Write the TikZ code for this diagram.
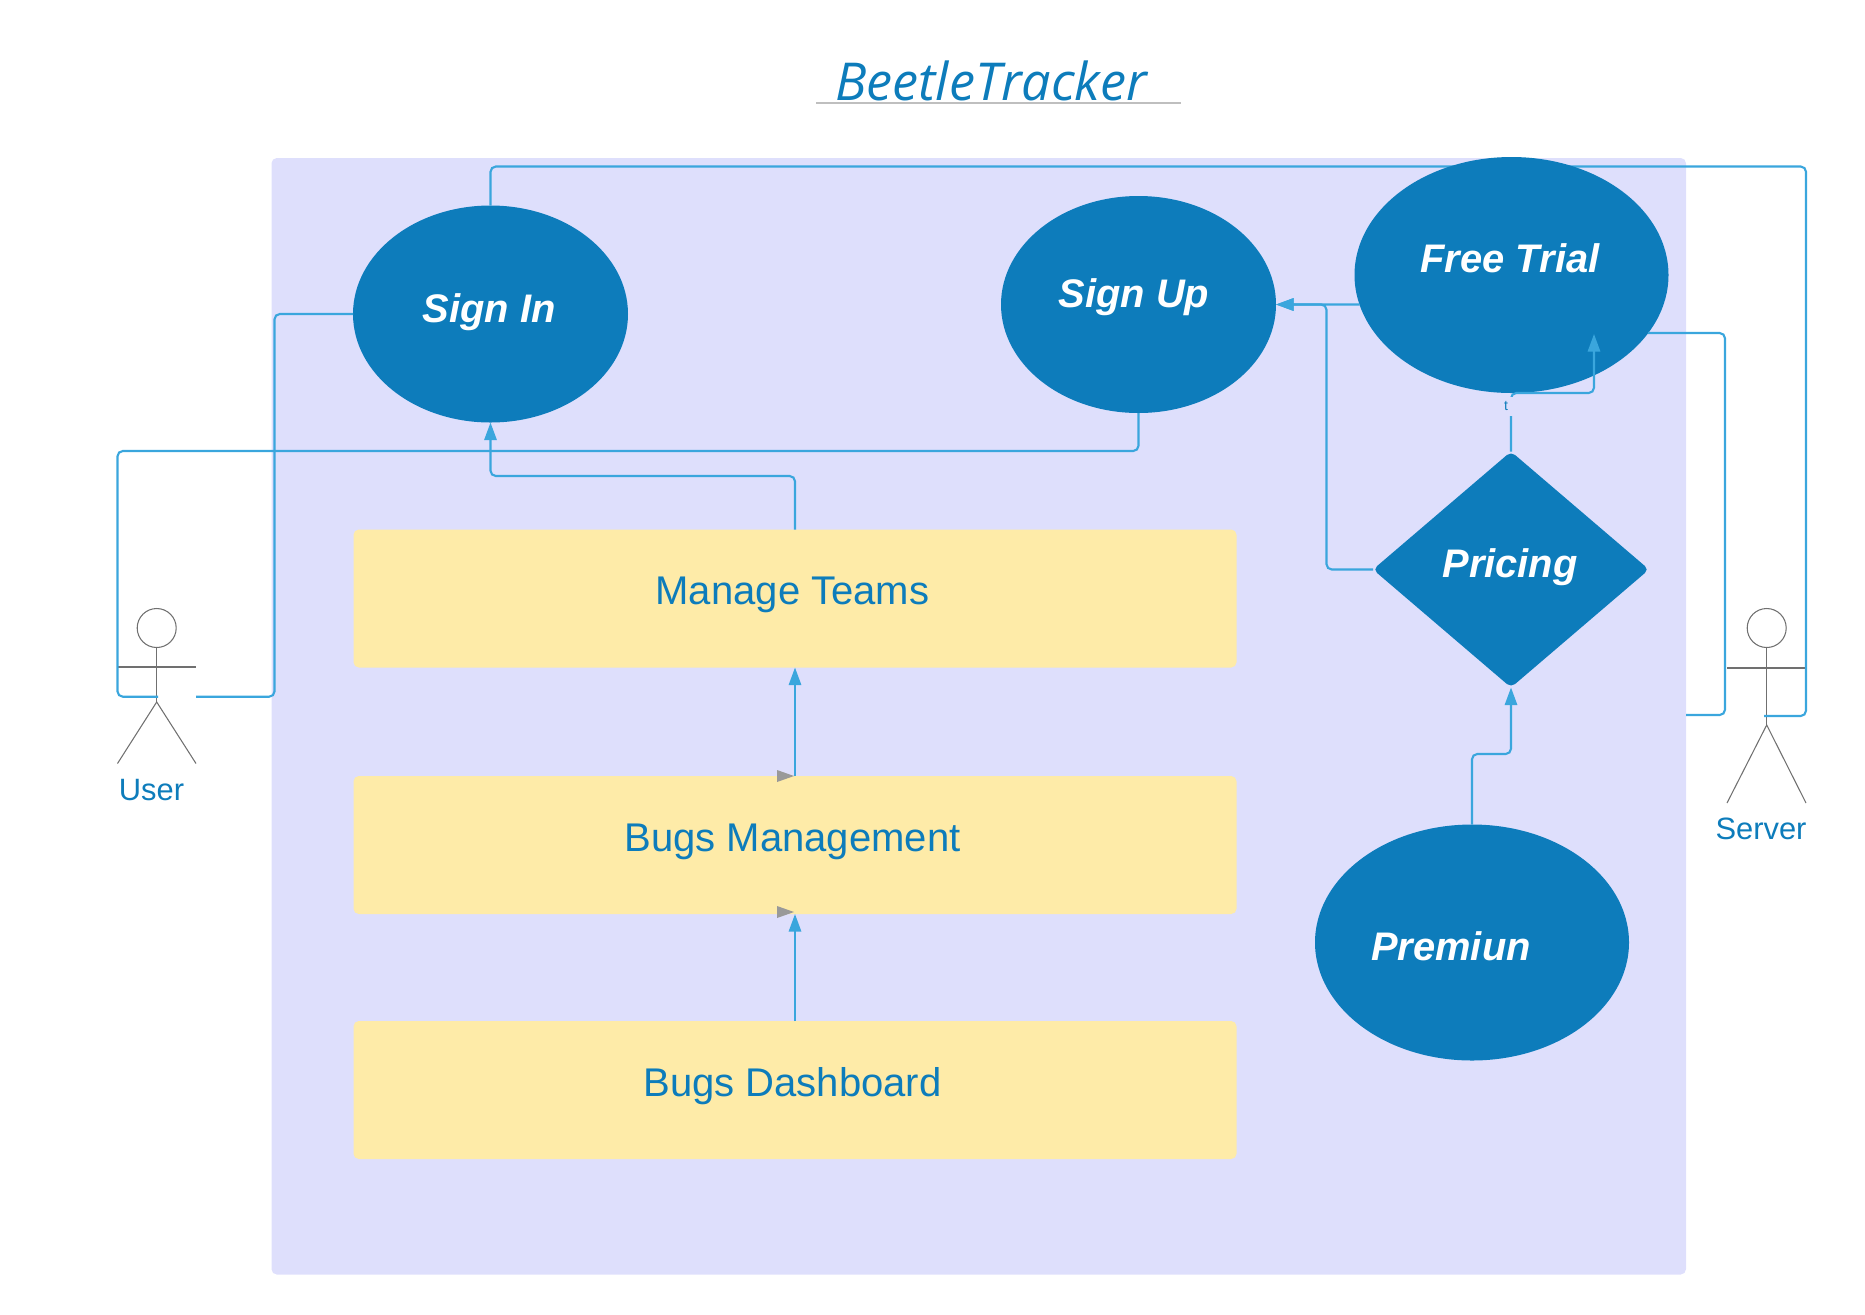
\documentclass[tikz,border=0pt]{standalone}
\usepackage{fontspec}
\setmainfont{Liberation Sans}
\newfontfamily\titlefont{Open Sans}
\usetikzlibrary{arrows.meta,shapes.geometric}
\newlength{\px}
\setlength{\px}{0.5669pt}
\newcommand{\nudge}[3]{\raisebox{#2\px}[0pt][0pt]{\makebox[0pt][c]{\hspace*{#1\px}\hspace*{#1\px}#3}}}
\definecolor{panelblue}{HTML}{DEDFFC}
\definecolor{boxyellow}{HTML}{FEEBA8}
\definecolor{deepblue}{HTML}{0D7CBB}
\definecolor{linkblue}{HTML}{3AA6DD}
\definecolor{actorgray}{HTML}{707070}
\begin{document}
\begin{tikzpicture}[x=1\px,y=-1\px,inner sep=0pt,outer sep=0pt,
>={Triangle[length=10pt,width=7pt]},
link/.style={draw=linkblue,line width=1.2pt,rounded corners=3pt},
panel/.style={fill=panelblue,rectangle,rounded corners=3pt,minimum width=1414.5\px,minimum height=1116.5\px},
bubble/.style={fill=deepblue,ellipse,text=white,font=\bfseries\itshape\fontsize{22.6}{26}\selectfont},
smallbubble/.style={bubble,minimum width=275\px,minimum height=217\px},
bigbubble/.style={bubble,minimum width=314\px,minimum height=236\px},
choice/.style={bubble,diamond,rounded corners=3pt,minimum width=276\px,minimum height=236\px},
featbox/.style={fill=boxyellow,rectangle,rounded corners=3pt,minimum width=883\px,minimum height=138\px,text=deepblue,font=\fontsize{22.7}{26}\selectfont},
head/.style={draw=actorgray,circle,line width=0.6pt,minimum size=39\px},
limb/.style={draw=actorgray,line width=0.6pt},
actorname/.style={text=deepblue,font=\fontsize{17.5}{20}\selectfont},
stray/.style={fill=black!40}]

\useasboundingbox (0,0) rectangle (1865,1314);

% title
\node[text=deepblue,font=\titlefont\itshape\fontsize{29.6}{34}\selectfont,anchor=base] (title) at (991.3,100) {BeetleTracker};
\draw[draw=black!25,line width=0.6pt] (816,103) coordinate (ruleleft) -- (1181,103) coordinate (ruleright);

\node[panel] (system) at (978.75,716.25) {};

% user
\node[head] (userhead) at (156.7,628) {};
\coordinate (userhip) at (156.7,702);
\coordinate (userhand) at (196,696.7);
\coordinate (userbody) at (158,696.7);
\draw[limb] (userhead.south) -- (userhip);
\draw[limb] (117.5,667) coordinate (userarml) -- (196,667) coordinate (userarmr);
\draw[limb] (117.5,763.5) coordinate (userfootl) -- (userhip) -- (196,763.5) coordinate (userfootr);
\node[actorname,anchor=base] (username) at (151.5,800) {User};

% server
\node[head] (serverhead) at (1766.7,628) {};
\coordinate (serverhip) at (1766.7,725);
\draw[limb] (serverhead.south) -- (serverhip);
\draw[limb] (1727,668) coordinate (serverarml) -- (1806,668) coordinate (serverarmr);
\draw[limb] (1727,803) coordinate (serverfootl) -- (serverhip) -- (1806,803) coordinate (serverfootr);
\node[actorname,anchor=base] (servername) at (1761,839.5) {Server};

\node[smallbubble] (signin) at (490.5,314) {\nudge{-1.5}{-8.5}{Sign In}};

% runs behind the free trial bubble
\coordinate (servertop) at (1806,166.5);
\coordinate (serverfoot) at (1764,716);
\draw[link] (signin.north) |- (servertop) |- (serverfoot);

\node[smallbubble] (signup) at (1138.5,304.5) {\nudge{-4.5}{-2.5}{Sign Up}};
\node[bigbubble] (freetrial) at (1511.5,275) {\nudge{-1.5}{3}{Free Trial}};
\node[choice] (pricing) at (1511,569.5) {\nudge{-1}{-7.5}{Pricing}};
\node[bigbubble] (premium) at (1472,942.5) {\nudge{-21}{-17.5}{Premiun}};

\node[featbox] (teams) at (795,598.5) {\nudge{-2.5}{-6.4}{Manage Teams}};
\node[featbox] (bugsmgmt) at (795,845) {\nudge{-2.5}{-6.4}{Bugs Management}};
\node[featbox] (dashboard) at (795,1090) {\nudge{-2.5}{-6.4}{Bugs Dashboard}};

\draw[link] (signin.west) -| (274.5,696.7) -- (userhand);
\coordinate (userbend) at (117.5,451);
\draw[link] (signup.south) |- (userbend) |- (userbody);

\draw[link,->] (teams.north) |- (490.5,476) -- (signin.south);
\draw[link,->] (bugsmgmt.north) -- (teams.south);
\draw[link,->] (dashboard.north) -- (bugsmgmt.south);
\fill[stray] (bugsmgmt.north) ++(-1,0) -- ++(-17,-6) -- ++(0,12) -- cycle;
\fill[stray] (bugsmgmt.south) ++(-1,-2) -- ++(-17,-6) -- ++(0,12) -- cycle;

\draw[link,->] (freetrial.191) -- (signup.east);
\draw[link,->] (pricing.west) -| (1326.5,304.5) -- (signup.east);
\coordinate (freebend) at (1594,393);
\draw[link,->] (pricing.north) |- (freebend) -- (1594,334);
\node[fill=panelblue,minimum width=14\px,minimum height=19\px,text=deepblue,font=\fontsize{8}{9}\selectfont] (pricinglabel) at (1511,406) {\nudge{-5}{-4}{t}};
\draw[link,->] (premium.north) |- (1511,754) -- (pricing.south);

\coordinate (serverbend) at (1725,715);
\draw[link] (freetrial.-23) -| (serverbend) -- (system.east |- serverbend);

\end{tikzpicture}
\end{document}
